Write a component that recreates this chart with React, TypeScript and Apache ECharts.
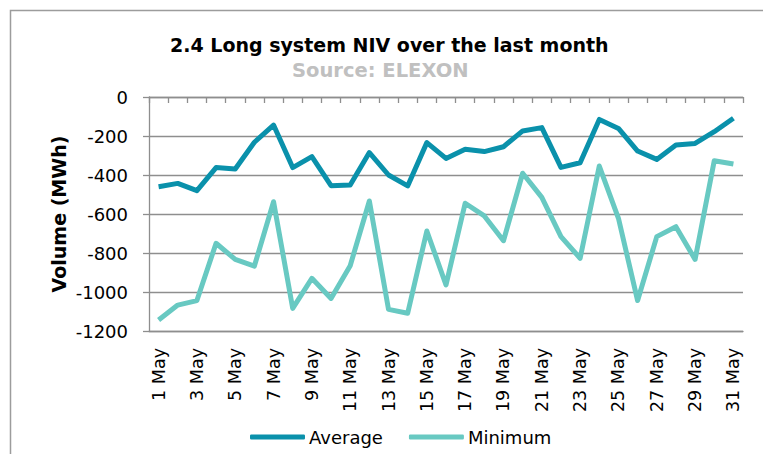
import React, { useEffect, useRef } from "react";
import * as echarts from "echarts";

const days: string[] = [
  "1 May", "2 May", "3 May", "4 May", "5 May", "6 May", "7 May", "8 May", "9 May", "10 May",
  "11 May", "12 May", "13 May", "14 May", "15 May", "16 May", "17 May", "18 May", "19 May", "20 May",
  "21 May", "22 May", "23 May", "24 May", "25 May", "26 May", "27 May", "28 May", "29 May", "30 May", "31 May",
];

const averageNIV: number[] = [
  -460, -443, -480, -362, -369, -232, -144, -362, -306, -455,
  -451, -285, -400, -456, -234, -315, -268, -280, -255, -174,
  -157, -361, -337, -115, -161, -277, -320, -246, -238, -178, -109,
];

const minimumNIV: number[] = [
  -1144, -1067, -1044, -750, -833, -867, -537, -1084, -930, -1033,
  -865, -533, -1089, -1109, -687, -964, -545, -610, -737, -391,
  -515, -716, -827, -354, -622, -1044, -716, -665, -833, -327, -344,
];

const seriesNames: string[] = ["Average", "Minimum"];
const titleText = "2.4 Long system NIV over the last month";
const subtitleText = "Source: ELEXON";
const yAxisName = "Volume (MWh)";

const FONT = "'DejaVu Sans', Verdana, sans-serif";
const GRID_COLOR = "#8e8e8e";

export default function App() {
  const ref = useRef<HTMLDivElement>(null);

  useEffect(() => {
    if (!ref.current) return;
    const chart = echarts.init(ref.current, undefined, { renderer: "svg" });
    chart.setOption({
      animation: false,
      backgroundColor: "#ffffff",
      textStyle: { fontFamily: FONT },
      title: [
        {
          text: titleText,
          left: 170,
          top: 35,
          padding: 0,
          textStyle: { fontFamily: FONT, fontSize: 19, fontWeight: "bold", color: "#000000" },
        },
        {
          text: subtitleText,
          left: 292,
          top: 60,
          padding: 0,
          textStyle: { fontFamily: FONT, fontSize: 19.5, fontWeight: "bold", color: "#c0c0c0" },
        },
      ],
      graphic: [
        {
          type: "rect",
          shape: { x: 10.5, y: 10.5, width: 900, height: 600 },
          style: { fill: "none", stroke: "#9c9c9c", lineWidth: 1.5 },
          silent: true,
          z: -1,
        },
      ],
      legend: {
        data: seriesNames,
        left: 250,
        top: 428,
        padding: 0,
        icon: "roundRect",
        itemWidth: 55,
        itemHeight: 5,
        itemGap: 26,
        textStyle: { fontFamily: FONT, fontSize: 18, color: "#000000", padding: [0, 0, 0, -1] },
      },
      grid: { left: 149, right: 20, top: 97, bottom: 123, containLabel: false },
      xAxis: [
        {
          type: "category",
          data: days,
          position: "bottom",
          boundaryGap: true,
          axisLine: { show: true, onZero: false, lineStyle: { color: GRID_COLOR, width: 1.3 } },
          axisTick: { show: false },
          axisLabel: {
            interval: 1,
            rotate: 90,
            margin: 17,
            fontFamily: FONT,
            fontSize: 17.5,
            color: "#000000",
          },
        },
        {
          type: "category",
          data: days,
          position: "top",
          boundaryGap: true,
          axisLine: { show: true, onZero: false, lineStyle: { color: GRID_COLOR, width: 1.3 } },
          axisTick: { show: true, inside: true, length: 6, interval: 0, lineStyle: { color: GRID_COLOR, width: 1.3 } },
          axisLabel: { show: false },
        },
      ],
      yAxis: {
        type: "value",
        min: -1200,
        max: 0,
        interval: 200,
        name: yAxisName,
        nameLocation: "middle",
        nameGap: 81,
        nameMoveOverlap: false,
        nameTextStyle: { fontFamily: FONT, fontSize: 19, fontWeight: "bold", color: "#000000" },
        axisLine: { show: true, lineStyle: { color: GRID_COLOR, width: 1.3 } },
        axisTick: { show: true, inside: false, length: 6, lineStyle: { color: GRID_COLOR, width: 1.3 } },
        axisLabel: {
          margin: 21,
          fontFamily: FONT,
          fontSize: 18,
          color: "#000000",
          formatter: (v: number) => String(v),
        },
        splitLine: { show: true, lineStyle: { color: GRID_COLOR, width: 1.3 } },
      },
      series: [
        {
          name: seriesNames[0],
          type: "line",
          xAxisIndex: 0,
          data: averageNIV,
          symbol: "none",
          lineStyle: { color: "#0a91ab", width: 5, join: "round" },
          itemStyle: { color: "#0a91ab" },
          z: 3,
        },
        {
          name: seriesNames[1],
          type: "line",
          xAxisIndex: 0,
          data: minimumNIV,
          symbol: "none",
          lineStyle: { color: "#68c9c2", width: 5, join: "round" },
          itemStyle: { color: "#68c9c2" },
          z: 2,
        },
      ],
    });
    return () => chart.dispose();
  }, []);

  return (
    <div
      ref={ref}
      style={{ position: "fixed", left: 0, top: 0, width: 763, height: 454, background: "#fff" }}
    />
  );
}
